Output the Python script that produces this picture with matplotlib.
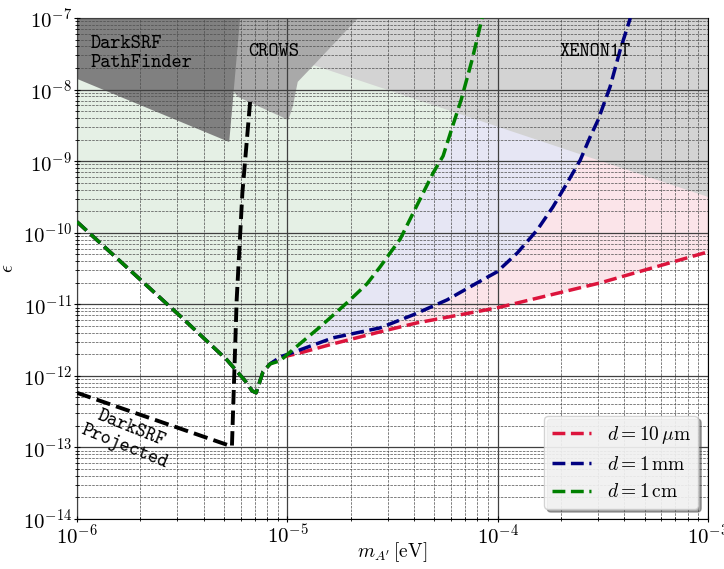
import numpy as np
import matplotlib.pyplot as plt
from matplotlib.ticker import LogLocator, NullFormatter

# ------------------------------------------------------------------
# Datos: límites sobre el mezclado cinético epsilon vs masa del fotón oscuro
# ------------------------------------------------------------------

# rama común a masas bajas (las tres separaciones coinciden)
m_comun = [1.00e-6, 3.16e-6, 5.16e-6, 6.30e-6, 6.79e-6, 7.10e-6, 7.66e-6, 8.28e-6]
eps_comun = [1.42e-10, 6.46e-12, 1.67e-12, 8.51e-13, 6.18e-13, 5.79e-13, 1.14e-12, 1.47e-12]

# d = 1 cm
m_1cm = [9.23e-6, 1.06e-5, 1.43e-5, 1.92e-5, 2.39e-5, 2.76e-5, 3.44e-5, 4.14e-5,
         4.93e-5, 5.50e-5, 6.13e-5, 6.70e-5, 7.55e-5, 8.43e-5]
eps_1cm = [1.62e-12, 2.31e-12, 4.83e-12, 1.05e-11, 1.93e-11, 3.33e-11, 8.18e-11, 2.44e-10,
           6.84e-10, 1.18e-9, 3.21e-9, 7.16e-9, 2.59e-8, 1.0e-7]

# d = 1 mm
m_1mm = [8.83e-6, 9.55e-6, 1.15e-5, 1.65e-5, 2.76e-5, 3.96e-5, 5.74e-5, 7.98e-5, 9.93e-5,
         1.24e-4, 1.54e-4, 1.83e-4, 2.14e-4, 2.47e-4, 2.75e-4, 3.00e-4, 3.42e-4, 3.82e-4, 4.27e-4]
eps_1mm = [1.67e-12, 1.90e-12, 2.31e-12, 3.40e-12, 4.68e-12, 7.11e-12, 1.15e-11, 1.99e-11, 2.84e-11,
           5.22e-11, 1.09e-10, 2.29e-10, 4.97e-10, 1.04e-9, 2.18e-9, 3.76e-9, 1.09e-8, 3.57e-8, 1.0e-7]

# d = 10 um
m_10um = [8.83e-6, 9.55e-6, 1.15e-5, 1.65e-5, 2.76e-5, 4.14e-5, 9.93e-5, 3.07e-4, 1.0e-3]
eps_10um = [1.62e-12, 1.84e-12, 2.09e-12, 2.80e-12, 4.12e-12, 5.50e-12, 8.91e-12, 1.99e-11, 5.40e-11]

# proyección DarkSRF
m_proy = [1.0e-6, 5.45e-6, 5.74e-6, 6.11e-6, 6.65e-6]
eps_proy = [5.79e-13, 1.03e-13, 1.15e-11, 3.60e-10, 6.71e-9]

# regiones excluidas
m_xenon = [5.83e-6, 5.83e-6, 1.0e-3, 1.0e-3]
eps_xenon = [1.0e-7, 4.93e-8, 3.16e-10, 1.0e-7]

m_crows = [5.46e-6, 5.46e-6, 5.83e-6, 1.01e-5, 1.06e-5, 1.12e-5, 1.31e-5, 2.17e-5]
eps_crows = [1.0e-7, 1.0e-8, 7.88e-9, 3.76e-9, 5.71e-9, 1.28e-8, 2.07e-8, 1.0e-7]

m_pathfinder = [1.0e-6, 1.0e-6, 5.29e-6, 5.96e-6]
eps_pathfinder = [1.0e-7, 1.41e-8, 1.85e-9, 1.0e-7]

etiquetas = [r'$d = 10\,\mu\mathrm{m}$', r'$d = 1\,\mathrm{mm}$', r'$d = 1\,\mathrm{cm}$']
colores = ['crimson', 'navy', 'green']
rellenos = ['#fbe4e9', '#e6e6f4', '#e5f0e5']


def configurar_estilo():
    plt.rcParams['font.family'] = 'serif'
    plt.rcParams['font.serif'] = ['cmr10']
    plt.rcParams['mathtext.fontset'] = 'cm'
    plt.rcParams['axes.formatter.use_mathtext'] = True
    plt.rcParams['axes.unicode_minus'] = False
    plt.rcParams['font.size'] = 14


def graficar():
    fig = plt.figure(figsize=(7.24, 5.69), dpi=100)
    ax = fig.add_axes([0.1064, 0.0879, 0.8716, 0.8805])
    ax.set_xscale('log')
    ax.set_yscale('log')

    curvas = [
        (m_comun + m_10um, eps_comun + eps_10um),
        (m_comun + m_1mm, eps_comun + eps_1mm),
        (m_comun + m_1cm, eps_comun + eps_1cm),
    ]

    # sombreado por encima de cada curva (de menos a más restrictiva)
    for (m, e), c in zip(curvas, rellenos):
        ax.fill_between(m, e, 1e-7, color=c, lw=0, zorder=1)

    # límites existentes
    ax.fill(m_xenon, eps_xenon, color='lightgray', lw=0, zorder=2)
    ax.fill(m_crows, eps_crows, color='darkgray', lw=0, zorder=2.1)
    ax.fill(m_pathfinder, eps_pathfinder, color='gray', lw=0, zorder=2.2)

    for (m, e), c, lab in zip(curvas, colores, etiquetas):
        ax.plot(m, e, ls='--', color=c, lw=2.5, label=lab, zorder=3)

    ax.plot(m_proy, eps_proy, ls='--', color='black', lw=2.8, zorder=3)

    tt = dict(family='cmtt10', fontsize=14, transform=ax.transAxes)
    ax.text(0.022, 0.966, 'DarkSRF\nPathFinder', ha='left', va='top', linespacing=1.05, **tt)
    ax.text(0.271, 0.950, 'CROWS', ha='left', va='top', **tt)
    ax.text(0.765, 0.950, 'XENON1T', ha='left', va='top', **tt)
    ax.text(0.081, 0.162, 'DarkSRF\nProjected', ha='center', va='center',
            rotation=-22, rotation_mode='anchor', linespacing=1.05, **tt)

    ax.set_xlim(1e-6, 1e-3)
    ax.set_ylim(1e-14, 1e-7)
    ax.xaxis.set_major_locator(LogLocator(base=10, numticks=20))
    ax.yaxis.set_major_locator(LogLocator(base=10, numticks=20))
    ax.xaxis.set_minor_locator(LogLocator(base=10, subs=np.arange(2, 10), numticks=100))
    ax.yaxis.set_minor_locator(LogLocator(base=10, subs=np.arange(2, 10), numticks=100))
    ax.xaxis.set_minor_formatter(NullFormatter())
    ax.yaxis.set_minor_formatter(NullFormatter())
    ax.tick_params(which='major', direction='inout', length=5, labelsize=15, pad=1)
    ax.tick_params(which='minor', direction='inout', length=3)

    ax.set_axisbelow(False)
    ax.grid(which='major', ls='-', color='0.25', lw=0.9)
    ax.grid(which='minor', ls='--', color='0.3', lw=0.5)

    ax.set_xlabel(r"$m_{A'}\,[\mathrm{eV}]$", fontsize=14, labelpad=-6)
    ax.set_ylabel(r'$\epsilon$', fontsize=14, labelpad=4)

    ax.legend(loc='lower right', fontsize=14, shadow=True, fancybox=True, framealpha=0.85)

    fig.savefig('out.png', dpi=100)


def main():
    configurar_estilo()
    graficar()


if __name__ == "__main__":
    main()
